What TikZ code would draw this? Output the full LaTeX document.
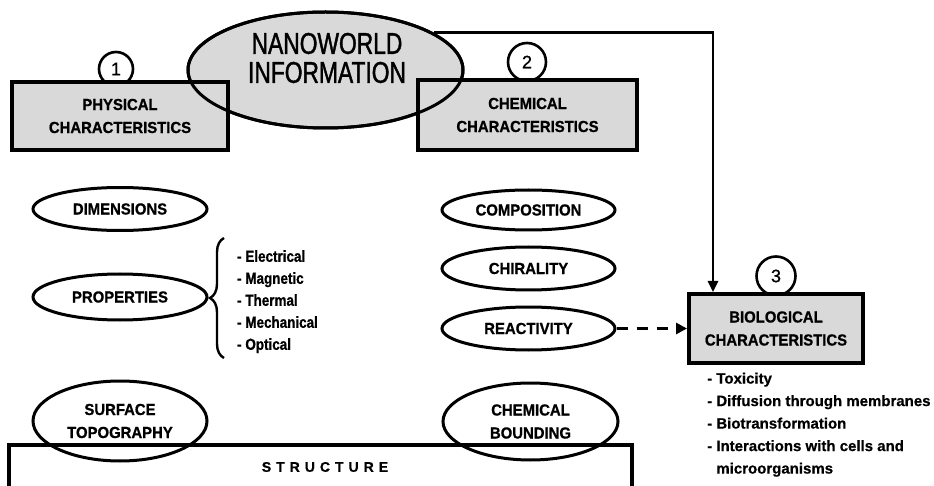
\documentclass[tikz,border=0pt]{standalone}
\usepackage{fontspec}
\setmainfont{Liberation Sans}[FakeBold=0.6]
\newfontfamily\cbf{Liberation Sans}[FakeStretch=0.93,FakeBold=0.8]
\newfontfamily\clist{Liberation Sans}[FakeStretch=0.84,FakeBold=0.8]
\newfontfamily\cnano{Liberation Sans}[FakeStretch=0.76,FakeBold=1.3]
\newfontfamily\cnum{Liberation Sans}[FakeBold=1.0]
\usetikzlibrary{shapes.geometric,arrows.meta,decorations.pathreplacing,calc}
\definecolor{boxgray}{RGB}{217,217,217}
\begin{document}
\begin{tikzpicture}[x=1pt,y=-1pt,
  hdr/.style={font=\cbf\bfseries\fontsize{16}{23}\selectfont, align=center},
  charbox/.style={draw, fill=boxgray, line width=4pt, rectangle, inner sep=0pt, hdr},
  oval/.style={draw, ellipse, line width=3pt, inner sep=0pt, minimum width=174pt, hdr},
  numc/.style={draw, circle, fill=white, line width=2.6pt, inner sep=0pt, font=\cnum\fontsize{18}{18}\selectfont},
  conn/.style={line width=2.5pt, -{Triangle[length=11pt,width=10pt]}},
  dconn/.style={line width=3pt, dash pattern=on 11pt off 9pt, -{Triangle[length=11pt,width=11pt]}},
  ]
\useasboundingbox (0,0) rectangle (934,486);
\clip (0,0) rectangle (934,486);

% central ellipse (fill)
\node[ellipse, draw, fill=boxgray, line width=3pt, inner sep=0pt,
      minimum width=275pt, minimum height=116pt] (nano) at (325.5,70) {};

% number circles
\node[numc, minimum size=34pt] (n1) at (116,69) {1};
\node[numc, minimum size=38pt] (n2) at (527,62) {2};
\node[numc, minimum size=39pt] (n3) at (776,276) {3};

% characteristic boxes
\node[charbox, minimum width=216pt, minimum height=68pt] (phys) at (120,116) {PHYSICAL\\CHARACTERISTICS};
\node[charbox, minimum width=219pt, minimum height=70pt] (chem) at (527.5,115) {CHEMICAL\\CHARACTERISTICS};
\node[charbox, minimum width=174pt, minimum height=69pt] (bio) at (776,328.5) {BIOLOGICAL\\CHARACTERISTICS};

% ellipse outline over the boxes, and its text
\draw[line width=3pt] (nano.center) ellipse [x radius=137.5pt, y radius=58pt];
\node[font=\cnano\fontsize{30}{29}\selectfont, align=center] (nanotxt) at (327,58) {NANOWORLD\\INFORMATION};

% arrow nanoworld -> biological
\draw[conn] (nano.19.3) -| ([xshift=26pt]bio.north west);

% ovals
\node[oval, minimum height=43pt] (dim) at (120,209) {DIMENSIONS};
\node[oval, minimum height=46pt] (prop) at (120,297) {PROPERTIES};
\node[oval, minimum width=173pt, minimum height=40pt] (comp) at (528.5,210) {COMPOSITION};
\node[oval, minimum width=173pt, minimum height=43pt] (chir) at (528.5,268.5) {CHIRALITY};
\node[oval, minimum width=173pt, minimum height=43pt] (react) at (528.5,328.5) {REACTIVITY};

% structure box
\node[draw, line width=3.5pt, minimum width=623pt, minimum height=80pt, anchor=north] (struct) at (320.5,443) {};
\node[font=\bfseries\fontsize{14}{14}\selectfont] (structtxt) at (325,467)
  {S\hspace{5pt}T\hspace{5pt}R\hspace{5pt}U\hspace{5pt}C\hspace{5pt}T\hspace{5pt}U\hspace{5pt}R\hspace{5pt}E};

\node[oval, minimum height=80pt] (surf) at (120,421) {SURFACE\\TOPOGRAPHY};
\node[oval, minimum width=175pt, minimum height=77pt] (cbond) at (530.5,421.5) {CHEMICAL\\BOUNDING};

% dashed arrow
\draw[dconn] (react.east) -- (bio.west);

% brace and property list
\coordinate (brb) at (224,358);
\coordinate (brt) at (224,238);
\draw[line width=2.4pt, decorate, decoration={brace, amplitude=14pt}] (brb) -- (brt);
\node[anchor=north west, align=left, inner sep=0pt, font=\clist\bfseries\fontsize{16}{22}\selectfont] (plist) at (237,250)
  {- Electrical\\- Magnetic\\- Thermal\\- Mechanical\\- Optical};

% biological list
\node[anchor=north west, align=left, inner sep=0pt, font=\bfseries\fontsize{15}{22.5}\selectfont] (blist) at (707,372.5)
  {- Toxicity\\- Diffusion through membranes\\- Biotransformation\\- Interactions with cells and\\\hphantom{- }microorganisms};
\end{tikzpicture}
\end{document}
